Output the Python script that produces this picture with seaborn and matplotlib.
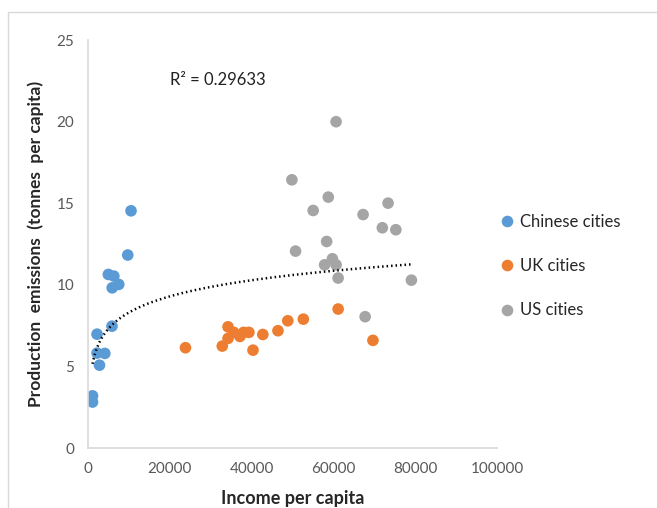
import numpy as np
import pandas as pd
import matplotlib
matplotlib.use("Agg")
import matplotlib.pyplot as plt
import seaborn as sns
from matplotlib.patches import Rectangle

# data
china_income = [1100, 1100, 2200, 2200, 2800, 4100, 4960, 5850, 5900, 6300, 7500, 9700, 10500]
china_emis = [3.2, 2.82, 6.98, 5.82, 5.08, 5.80, 10.64, 7.47, 9.82, 10.54, 10.03, 11.83, 14.54]

uk_income = [23800, 32800, 34200, 34200, 35600, 37100, 38000, 39300, 40300, 42700,
             46400, 48800, 52600, 61100, 69600]
uk_emis = [6.15, 6.25, 7.43, 6.72, 7.09, 6.84, 7.09, 7.09, 6.0, 6.96,
           7.19, 7.80, 7.90, 8.52, 6.60]

us_income = [60600, 49800, 58700, 55000, 73300, 67200, 71900, 75200, 50700, 58300,
             59700, 57800, 60600, 61100, 79000, 67700]
us_emis = [20.0, 16.44, 15.38, 14.56, 15.01, 14.31, 13.5, 13.38, 12.07, 12.66,
           11.6, 11.23, 11.23, 10.42, 10.29, 8.05]

groups = ["Chinese cities", "UK cities", "US cities"]
colors = ["#5B9BD5", "#ED7D31", "#A5A5A5"]
r2_label = "R\u00b2 = 0.29633"

df = pd.concat([
    pd.DataFrame({"income": china_income, "emis": china_emis, "group": groups[0]}),
    pd.DataFrame({"income": uk_income, "emis": uk_emis, "group": groups[1]}),
    pd.DataFrame({"income": us_income, "emis": us_emis, "group": groups[2]}),
], ignore_index=True)

sns.set_style("white")
plt.rcParams["font.family"] = ["Lato", "DejaVu Sans"]

fig = plt.figure(figsize=(6.57, 5.08), dpi=100)
ax = fig.add_axes([0.134, 0.118, 0.623, 0.803])

sns.scatterplot(data=df, x="income", y="emis", hue="group", hue_order=groups,
                palette=colors, s=70, edgecolor="none", ax=ax)

# logarithmic trendline over all points
a, b = np.polyfit(np.log(df["income"]), df["emis"], 1)
xs = np.linspace(df["income"].min(), df["income"].max(), 200)
ax.plot(xs, a * np.log(xs) + b, color="black", lw=1.8, ls=(0, (0.6, 1.2)))

ax.text(20000, 22.55, r2_label, fontsize=12, color="#222222", va="center")

ax.set_xlim(0, 100000)
ax.set_ylim(0, 25)
ax.set_xticks([0, 20000, 40000, 60000, 80000, 100000])
ax.set_yticks([0, 5, 10, 15, 20, 25])
ax.tick_params(axis="both", labelsize=11, labelcolor="#595959", length=0, pad=10)
ax.set_xlabel("Income per capita", fontsize=13, fontweight="bold", labelpad=10)
ax.set_ylabel("Production  emissions  (tonnes  per capita)", fontsize=12.5,
              fontweight="bold", labelpad=9)
for side in ["top", "right"]:
    ax.spines[side].set_visible(False)
for side in ["left", "bottom"]:
    ax.spines[side].set_color("#D9D9D9")
    ax.spines[side].set_linewidth(1.2)

leg = ax.legend(loc="center left", bbox_to_anchor=(0.988, 0.446), frameon=False,
                fontsize=12, labelspacing=1.7, handlelength=1.0, handletextpad=0.25,
                borderaxespad=0)

fig.patches.append(Rectangle((8 / 657, -0.1), 1.2, 1 - 12 / 508 + 0.1,
                             transform=fig.transFigure, fill=False,
                             edgecolor="#D9D9D9", lw=1.0))

fig.savefig("out.png", dpi=100)
